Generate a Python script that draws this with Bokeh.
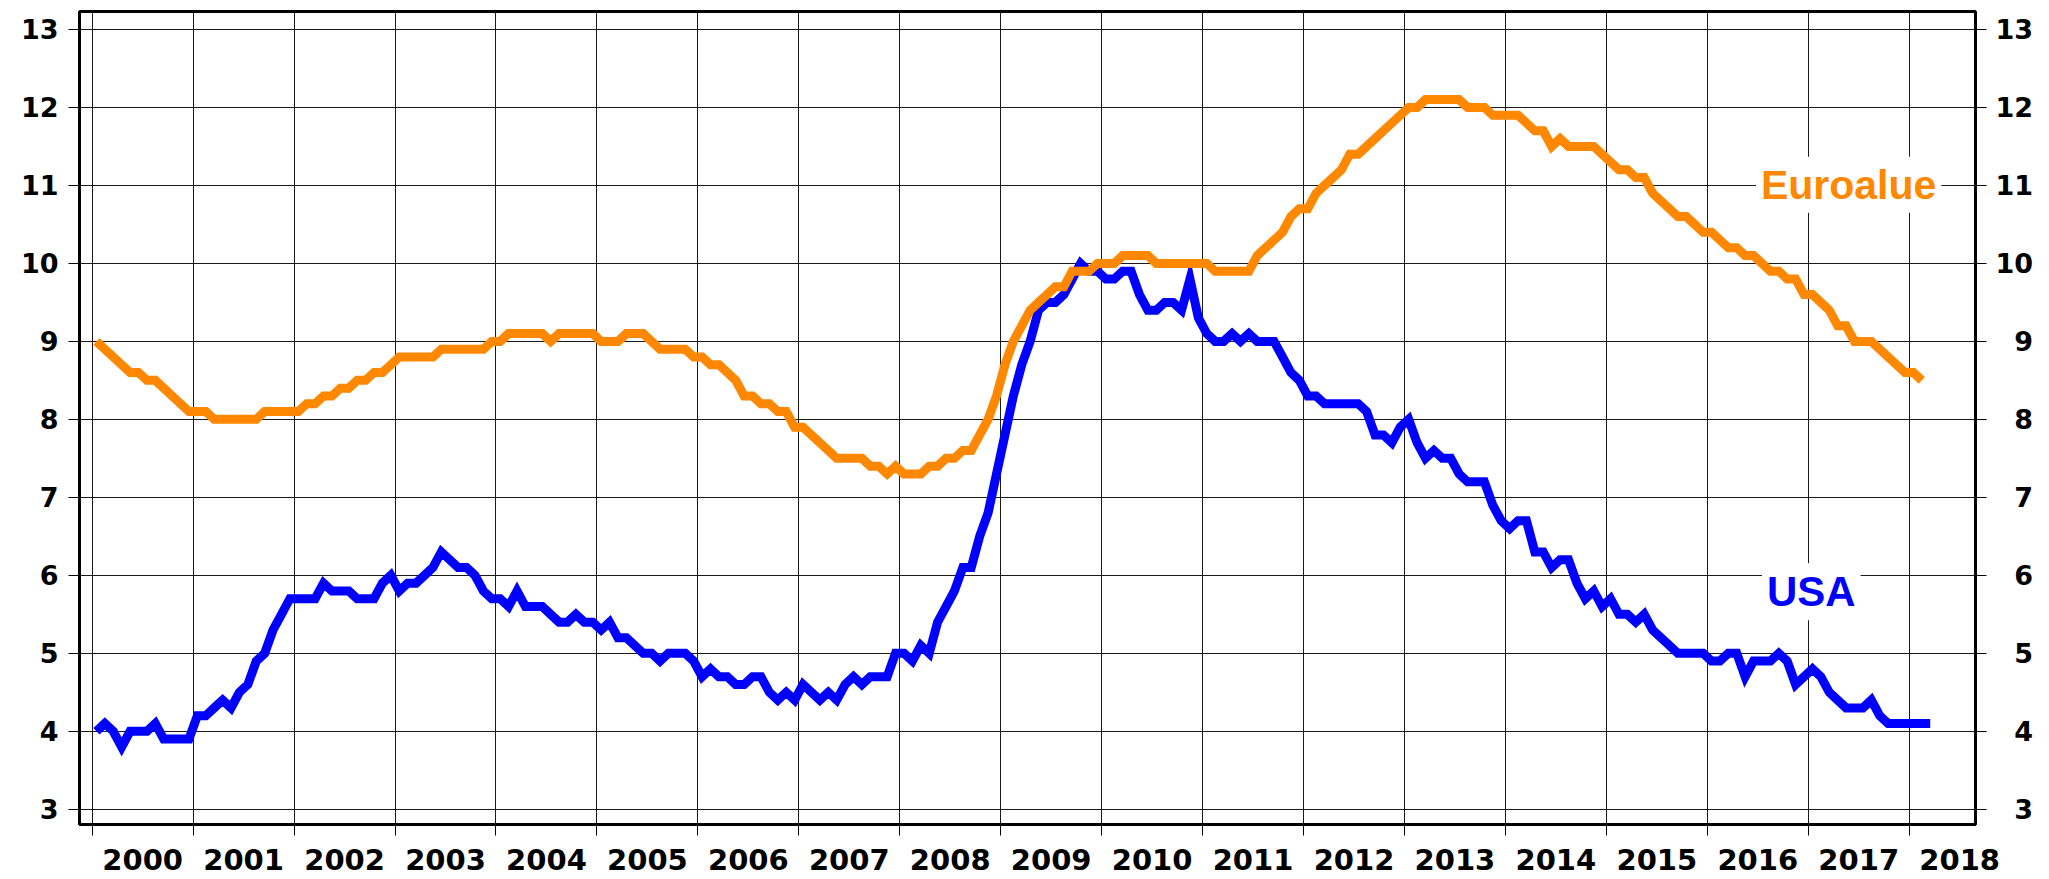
from bokeh.plotting import figure
from bokeh.models import FixedTicker, LinearAxis, Label, Range1d
from bokeh.embed import file_html
from bokeh.resources import INLINE
import numpy as np

# ---- data -------------------------------------------------------------
start_year = 2000
year_labels = [str(y) for y in range(2000, 2019)]
y_ticks = [3, 4, 5, 6, 7, 8, 9, 10, 11, 12, 13]

# USA unemployment rate, monthly, Jan 2000 - Mar 2018
usa = [
    4.0, 4.1, 4.0, 3.8, 4.0, 4.0, 4.0, 4.1, 3.9, 3.9, 3.9, 3.9,   # 2000
    4.2, 4.2, 4.3, 4.4, 4.3, 4.5, 4.6, 4.9, 5.0, 5.3, 5.5, 5.7,   # 2001
    5.7, 5.7, 5.7, 5.9, 5.8, 5.8, 5.8, 5.7, 5.7, 5.7, 5.9, 6.0,   # 2002
    5.8, 5.9, 5.9, 6.0, 6.1, 6.3, 6.2, 6.1, 6.1, 6.0, 5.8, 5.7,   # 2003
    5.7, 5.6, 5.8, 5.6, 5.6, 5.6, 5.5, 5.4, 5.4, 5.5, 5.4, 5.4,   # 2004
    5.3, 5.4, 5.2, 5.2, 5.1, 5.0, 5.0, 4.9, 5.0, 5.0, 5.0, 4.9,   # 2005
    4.7, 4.8, 4.7, 4.7, 4.6, 4.6, 4.7, 4.7, 4.5, 4.4, 4.5, 4.4,   # 2006
    4.6, 4.5, 4.4, 4.5, 4.4, 4.6, 4.7, 4.6, 4.7, 4.7, 4.7, 5.0,   # 2007
    5.0, 4.9, 5.1, 5.0, 5.4, 5.6, 5.8, 6.1, 6.1, 6.5, 6.8, 7.3,   # 2008
    7.8, 8.3, 8.7, 9.0, 9.4, 9.5, 9.5, 9.6, 9.8, 10.0, 9.9, 9.9,  # 2009
    9.8, 9.8, 9.9, 9.9, 9.6, 9.4, 9.4, 9.5, 9.5, 9.4, 9.8, 9.3,   # 2010
    9.1, 9.0, 9.0, 9.1, 9.0, 9.1, 9.0, 9.0, 9.0, 8.8, 8.6, 8.5,   # 2011
    8.3, 8.3, 8.2, 8.2, 8.2, 8.2, 8.2, 8.1, 7.8, 7.8, 7.7, 7.9,   # 2012
    8.0, 7.7, 7.5, 7.6, 7.5, 7.5, 7.3, 7.2, 7.2, 7.2, 6.9, 6.7,   # 2013
    6.6, 6.7, 6.7, 6.3, 6.3, 6.1, 6.2, 6.2, 5.9, 5.7, 5.8, 5.6,   # 2014
    5.7, 5.5, 5.5, 5.4, 5.5, 5.3, 5.2, 5.1, 5.0, 5.0, 5.0, 5.0,   # 2015
    4.9, 4.9, 5.0, 5.0, 4.7, 4.9, 4.9, 4.9, 5.0, 4.9, 4.6, 4.7,   # 2016
    4.8, 4.7, 4.5, 4.4, 4.3, 4.3, 4.3, 4.4, 4.2, 4.1, 4.1, 4.1,   # 2017
    4.1, 4.1, 4.1,                                                # 2018
]

# Euro area unemployment rate, monthly, Jan 2000 - Feb 2018
euro = [
    9.0, 8.9, 8.8, 8.7, 8.6, 8.6, 8.5, 8.5, 8.4, 8.3, 8.2, 8.1,   # 2000
    8.1, 8.1, 8.0, 8.0, 8.0, 8.0, 8.0, 8.0, 8.1, 8.1, 8.1, 8.1,   # 2001
    8.1, 8.2, 8.2, 8.3, 8.3, 8.4, 8.4, 8.5, 8.5, 8.6, 8.6, 8.7,   # 2002
    8.8, 8.8, 8.8, 8.8, 8.8, 8.9, 8.9, 8.9, 8.9, 8.9, 8.9, 9.0,   # 2003
    9.0, 9.1, 9.1, 9.1, 9.1, 9.1, 9.0, 9.1, 9.1, 9.1, 9.1, 9.1,   # 2004
    9.0, 9.0, 9.0, 9.1, 9.1, 9.1, 9.0, 8.9, 8.9, 8.9, 8.9, 8.8,   # 2005
    8.8, 8.7, 8.7, 8.6, 8.5, 8.3, 8.3, 8.2, 8.2, 8.1, 8.1, 7.9,   # 2006
    7.9, 7.8, 7.7, 7.6, 7.5, 7.5, 7.5, 7.5, 7.4, 7.4, 7.3, 7.4,   # 2007
    7.3, 7.3, 7.3, 7.4, 7.4, 7.5, 7.5, 7.6, 7.6, 7.8, 8.0, 8.3,   # 2008
    8.7, 9.0, 9.2, 9.4, 9.5, 9.6, 9.7, 9.7, 9.9, 9.9, 9.9, 10.0,  # 2009
    10.0, 10.0, 10.1, 10.1, 10.1, 10.1, 10.0, 10.0, 10.0, 10.0, 10.0, 10.0,  # 2010
    10.0, 9.9, 9.9, 9.9, 9.9, 9.9, 10.1, 10.2, 10.3, 10.4, 10.6, 10.7,      # 2011
    10.7, 10.9, 11.0, 11.1, 11.2, 11.4, 11.4, 11.5, 11.6, 11.7, 11.8, 11.9, # 2012
    12.0, 12.0, 12.1, 12.1, 12.1, 12.1, 12.1, 12.0, 12.0, 12.0, 11.9, 11.9, # 2013
    11.9, 11.9, 11.8, 11.7, 11.7, 11.5, 11.6, 11.5, 11.5, 11.5, 11.5, 11.4, # 2014
    11.3, 11.2, 11.2, 11.1, 11.1, 10.9, 10.8, 10.7, 10.6, 10.6, 10.5, 10.4, # 2015
    10.4, 10.3, 10.2, 10.2, 10.1, 10.1, 10.0, 9.9, 9.9, 9.8, 9.8, 9.6,      # 2016
    9.6, 9.5, 9.4, 9.2, 9.2, 9.0, 9.0, 9.0, 8.9, 8.8, 8.7, 8.6,             # 2017
    8.6, 8.5,                                                               # 2018
]

series_names = ["Euroalue", "USA"]
usa_color = "#0000ff"
euro_color = "#ff8800"

# ---- positions (mid-month) ---------------------------------------------
x_usa = start_year + (np.arange(len(usa)) + 0.5) / 12.0
x_euro = start_year + (np.arange(len(euro)) + 0.5) / 12.0
grid_years = [start_year + i for i in range(len(year_labels))]
label_pos = [y + 0.5 for y in grid_years]

TICK_FONT = "DejaVu Sans"
LABEL_FONT = "Liberation Sans"

p = figure(
    width=2049, height=879,
    x_range=Range1d(1999.874, 2018.657),
    y_range=Range1d(2.805, 13.23),
    output_backend="svg", toolbar_location=None,
    min_border_left=79, min_border_right=74,
    min_border_top=11, min_border_bottom=55,
    background_fill_color="white", border_fill_color="white",
)
p.outline_line_color = "black"
p.outline_line_width = 3

# grids
p.xgrid.ticker = FixedTicker(ticks=grid_years)
p.ygrid.ticker = FixedTicker(ticks=y_ticks)
for g in (p.xgrid, p.ygrid):
    g.grid_line_color = "#1a1a1a"
    g.grid_line_width = 1

# x axis: labels centred in each year, ticks at year boundaries
xa = p.xaxis[0]
xa.ticker = FixedTicker(ticks=label_pos, minor_ticks=grid_years)
xa.major_label_overrides = {lp: lbl for lp, lbl in zip(label_pos, year_labels)}
xa.major_tick_out = 0
xa.major_tick_in = 0
xa.minor_tick_out = 11
xa.minor_tick_in = 0
xa.minor_tick_line_color = "black"
xa.axis_line_color = None
xa.major_label_standoff = 13
xa.major_label_text_font = TICK_FONT
xa.major_label_text_font_style = "bold"
xa.major_label_text_font_size = "29px"
xa.major_label_text_color = "black"

# left y axis
ya = p.yaxis[0]
ya.ticker = FixedTicker(ticks=y_ticks)
ya.major_tick_out = 11
ya.major_tick_in = 0
ya.minor_tick_out = 0
ya.minor_tick_in = 0
ya.major_tick_line_color = "black"
ya.axis_line_color = None
ya.major_label_standoff = 10
ya.major_label_text_font = TICK_FONT
ya.major_label_text_font_style = "bold"
ya.major_label_text_font_size = "27px"
ya.major_label_text_color = "black"

# right y axis
ra = LinearAxis(ticker=FixedTicker(ticks=y_ticks))
ra.major_tick_out = 11
ra.major_tick_in = 0
ra.minor_tick_out = 0
ra.minor_tick_in = 0
ra.major_tick_line_color = "black"
ra.axis_line_color = None
ra.major_label_standoff = 9
ra.major_label_overrides = {t: (str(t) if t >= 10 else "\u2007" + str(t)) for t in y_ticks}
ra.major_label_text_font = TICK_FONT
ra.major_label_text_font_style = "bold"
ra.major_label_text_font_size = "27px"
ra.major_label_text_color = "black"
p.add_layout(ra, "right")

# lines
p.line(x_usa, usa, line_color=usa_color, line_width=9, line_join="miter")
p.line(x_euro, euro, line_color=euro_color, line_width=9, line_join="miter")

# series labels
p.add_layout(Label(x=2017.40, y=11.01, text=series_names[0], text_align="center",
                   text_baseline="alphabetic", text_color=euro_color,
                   text_font=LABEL_FONT, text_font_style="bold", text_font_size="41px",
                   background_fill_color="white", padding=5))
p.add_layout(Label(x=2017.03, y=5.79, text=series_names[1], text_align="center",
                   text_baseline="alphabetic", text_color=usa_color,
                   text_font=LABEL_FONT, text_font_style="bold", text_font_size="42px",
                   background_fill_color="white", padding=5))

open("out.html", "w").write(file_html(p, INLINE))
